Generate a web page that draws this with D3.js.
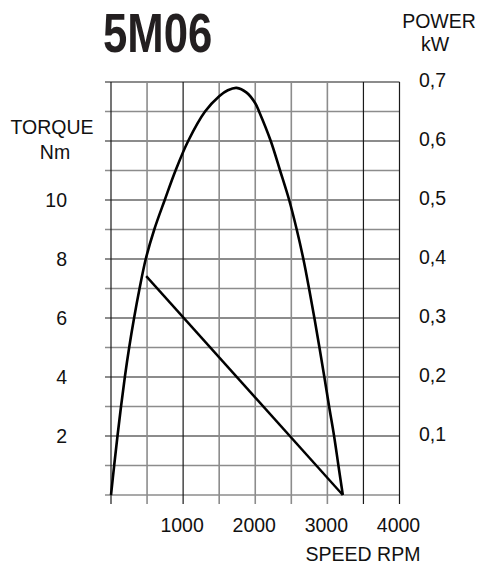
<!DOCTYPE html>
<html><head><meta charset="utf-8">
<script src="https://cdn.jsdelivr.net/npm/d3@7/dist/d3.min.js"></script>
<style>
html,body{margin:0;padding:0;background:#fff;}
svg{display:block;}
</style></head>
<body>
<svg id="c" width="487" height="570"></svg>
<script>
const title = "5M06";
const speedTicks = [1000, 2000, 3000, 4000];
const torqueTicks = [2, 4, 6, 8, 10];
const powerTicks = [0.1, 0.2, 0.3, 0.4, 0.5, 0.6, 0.7];
const powerTickLabels = ["0,1", "0,2", "0,3", "0,4", "0,5", "0,6", "0,7"];
const speedGrid = [0, 500, 1000, 1500, 2000, 2500, 3000, 3500, 4000];
const torqueGrid = [0, 1, 2, 3, 4, 5, 6, 7, 8, 9, 10, 11, 12, 13, 14];
// power curve (rpm, kW)
const powerRpm = [0, 44, 90, 139, 192, 252, 320, 396, 482, 600, 745, 895, 1070, 1304, 1500, 1620, 1740, 1880, 2000, 2060, 2215, 2344, 2470, 2575, 2667, 2746, 2820, 2890, 2958, 3024, 3093, 3153, 3214];
const powerKw = [0, 0.05, 0.1, 0.15, 0.2, 0.25, 0.3, 0.35, 0.4, 0.45, 0.5, 0.55, 0.6, 0.65, 0.676, 0.686, 0.69, 0.682, 0.664, 0.648, 0.6, 0.55, 0.5, 0.45, 0.4, 0.35, 0.3, 0.25, 0.2, 0.15, 0.1, 0.05, 0];
// torque line (rpm, Nm)
const torqueRpm = [488, 3214];
const torqueNm = [7.42, 0];

const svg = d3.select("#c");
const x = d3.scaleLinear().domain([0, 4000]).range([111, 399.5]);
const yT = d3.scaleLinear().domain([0, 14]).range([495, 82]);
const yP = d3.scaleLinear().domain([0, 0.7]).range([495, 82]);

const darkV = new Set([0, 1000, 3500, 4000]);
const g = svg.append("g");
// horizontal grid
g.selectAll("line.h").data(torqueGrid).join("line")
  .attr("x1", 105).attr("x2", x(4000))
  .attr("y1", d => yT(d)).attr("y2", d => yT(d))
  .attr("stroke", d => (d % 2 === 0 && d !== 0) ? "#1a1a1a" : "#8c8c8c")
  .attr("stroke-width", d => (d % 2 === 0 && d !== 0) ? 1.2 : 1.6);
// vertical grid
g.selectAll("line.v").data(speedGrid).join("line")
  .attr("x1", d => x(d)).attr("x2", d => x(d))
  .attr("y1", yT(14)).attr("y2", 504)
  .attr("stroke", d => darkV.has(d) ? "#1a1a1a" : "#8c8c8c")
  .attr("stroke-width", d => darkV.has(d) ? 1.2 : 1.6);

// curves
const line = d3.line().curve(d3.curveCatmullRom.alpha(0.5));
svg.append("path")
  .attr("d", line(powerRpm.map((r, i) => [x(r), yP(powerKw[i])])))
  .attr("fill", "none").attr("stroke", "#000").attr("stroke-width", 2.6)
  .attr("stroke-linejoin", "round");
svg.append("path")
  .attr("d", d3.line()(torqueRpm.map((r, i) => [x(r), yT(torqueNm[i])])))
  .attr("fill", "none").attr("stroke", "#000").attr("stroke-width", 2.4);

const font = "'Liberation Sans', Arial, Helvetica, sans-serif";
// left axis labels
svg.selectAll("text.lt").data(torqueTicks).join("text")
  .attr("x", 67).attr("y", d => yT(d) + 7)
  .attr("text-anchor", "end").attr("font-family", font).attr("font-size", 19.5)
  .attr("fill", "#111").text(d => d);
// right axis labels
svg.selectAll("text.rt").data(powerTicks).join("text")
  .attr("x", 419).attr("y", (d, i) => yP(d) + 5)
  .attr("text-anchor", "start").attr("font-family", font).attr("font-size", 19.5)
  .attr("fill", "#111").text((d, i) => powerTickLabels[i]);
// bottom labels
svg.selectAll("text.bt").data(speedTicks).join("text")
  .attr("x", d => x(d) - 1).attr("y", 532)
  .attr("text-anchor", "middle").attr("font-family", font).attr("font-size", 19.5)
  .attr("fill", "#111").text(d => d);

// axis titles
const t = (tx, ty, s, anchor) => svg.append("text").attr("x", tx).attr("y", ty)
  .attr("text-anchor", anchor || "middle").attr("font-family", font)
  .attr("font-size", 19.5).attr("fill", "#111").text(s);
t(52, 134, "TORQUE");
t(55, 159, "Nm");
t(439, 28, "POWER");
t(435, 51, "kW");
t(363, 561, "SPEED RPM");

svg.append("text").attr("transform", "translate(103,52) scale(0.78,1)")
  .attr("font-family", "'Liberation Sans', Arial, sans-serif")
  .attr("font-weight", "bold").attr("font-size", 56).attr("fill", "#231f20")
  .text(title);
</script>
</body></html>
